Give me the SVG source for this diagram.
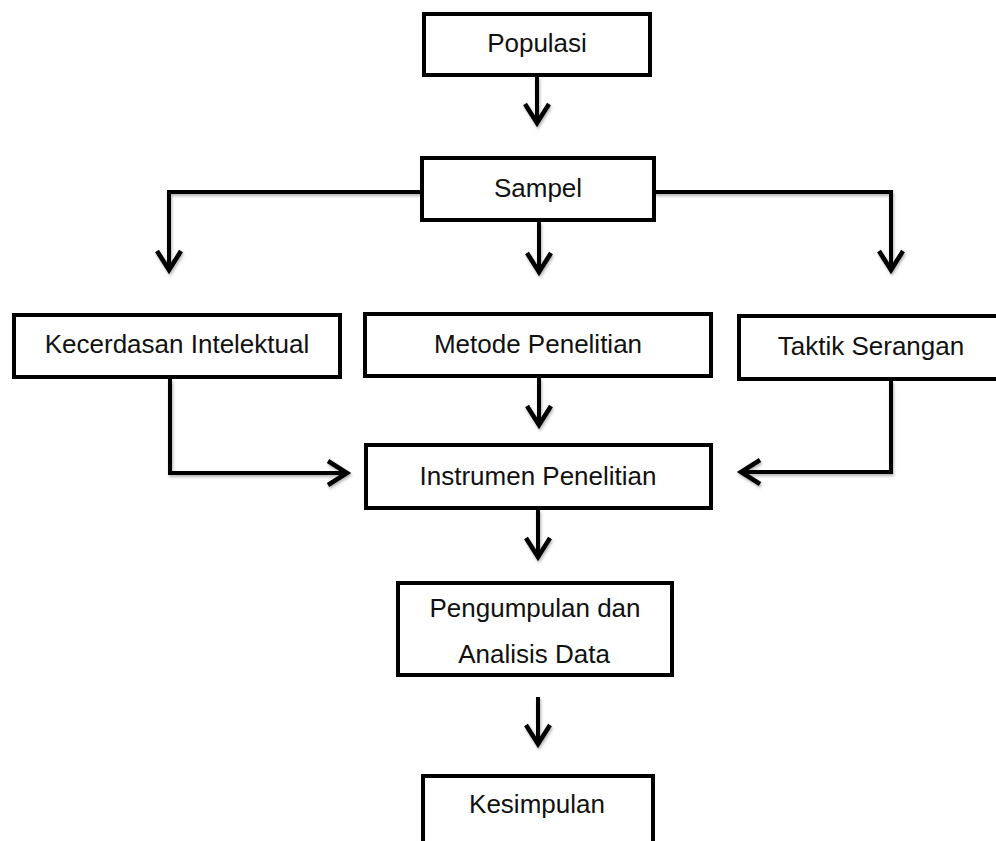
<svg xmlns="http://www.w3.org/2000/svg" width="996" height="841" viewBox="0 0 996 841">
  <defs>
    <style>
      .box { fill: #ffffff; stroke: #000000; stroke-width: 4; }
      .lbl { font-family: "Liberation Sans", Arial, sans-serif; font-size: 26px; fill: #111111; text-anchor: middle; }
      .con { fill: none; stroke: #000000; stroke-width: 4; stroke-linejoin: miter; marker-end: url(#chev); }
    </style>
    <marker id="chev" markerUnits="userSpaceOnUse" viewBox="-26 -16 30 32" markerWidth="30" markerHeight="32" refX="0" refY="0" orient="auto" overflow="visible">
      <path d="M-20,-12 L-1,0 L-20,12" fill="none" stroke="#000000" stroke-width="4.5" stroke-linejoin="miter"/>
    </marker>
    <filter id="sh" x="-10%" y="-10%" width="130%" height="130%">
      <feDropShadow dx="1" dy="2" stdDeviation="1.5" flood-color="#000000" flood-opacity="0.3"/>
    </filter>
  </defs>

  <g id="connectors" filter="url(#sh)">
    <path class="con" d="M537,77 V124"/>
    <path class="con" d="M422,192 H169 V271"/>
    <path class="con" d="M539,222 V273"/>
    <path class="con" d="M654,192 H891 V271"/>
    <path class="con" d="M170,379 V473 H348"/>
    <path class="con" d="M539,378 V426"/>
    <path class="con" d="M891,381 V472 H740"/>
    <path class="con" d="M538,510 V558"/>
    <path class="con" d="M538,697 V745"/>
  </g>

  <g id="populasi">
    <rect class="box" x="424" y="14" width="226" height="61"/>
    <text class="lbl" x="537" y="52">Populasi</text>
  </g>
  <g id="sampel">
    <rect class="box" x="422" y="158" width="232" height="62"/>
    <text class="lbl" x="538" y="197">Sampel</text>
  </g>
  <g id="kecerdasan">
    <rect class="box" x="14" y="315" width="326" height="62"/>
    <text class="lbl" x="177" y="353">Kecerdasan Intelektual</text>
  </g>
  <g id="metode">
    <rect class="box" x="365" y="314" width="346" height="62"/>
    <text class="lbl" x="538" y="353">Metode Penelitian</text>
  </g>
  <g id="taktik">
    <rect class="box" x="739" y="316" width="300" height="63"/>
    <text class="lbl" x="871" y="355">Taktik Serangan</text>
  </g>
  <g id="instrumen">
    <rect class="box" x="366" y="445" width="345" height="63"/>
    <text class="lbl" x="538" y="485">Instrumen Penelitian</text>
  </g>
  <g id="pengumpulan">
    <rect class="box" x="398" y="583" width="274" height="92"/>
    <text class="lbl" x="535" y="617">Pengumpulan dan</text>
    <text class="lbl" x="534" y="663">Analisis Data</text>
  </g>
  <g id="kesimpulan">
    <rect class="box" x="423" y="776" width="230" height="80"/>
    <text class="lbl" x="537" y="813">Kesimpulan</text>
  </g>
</svg>
